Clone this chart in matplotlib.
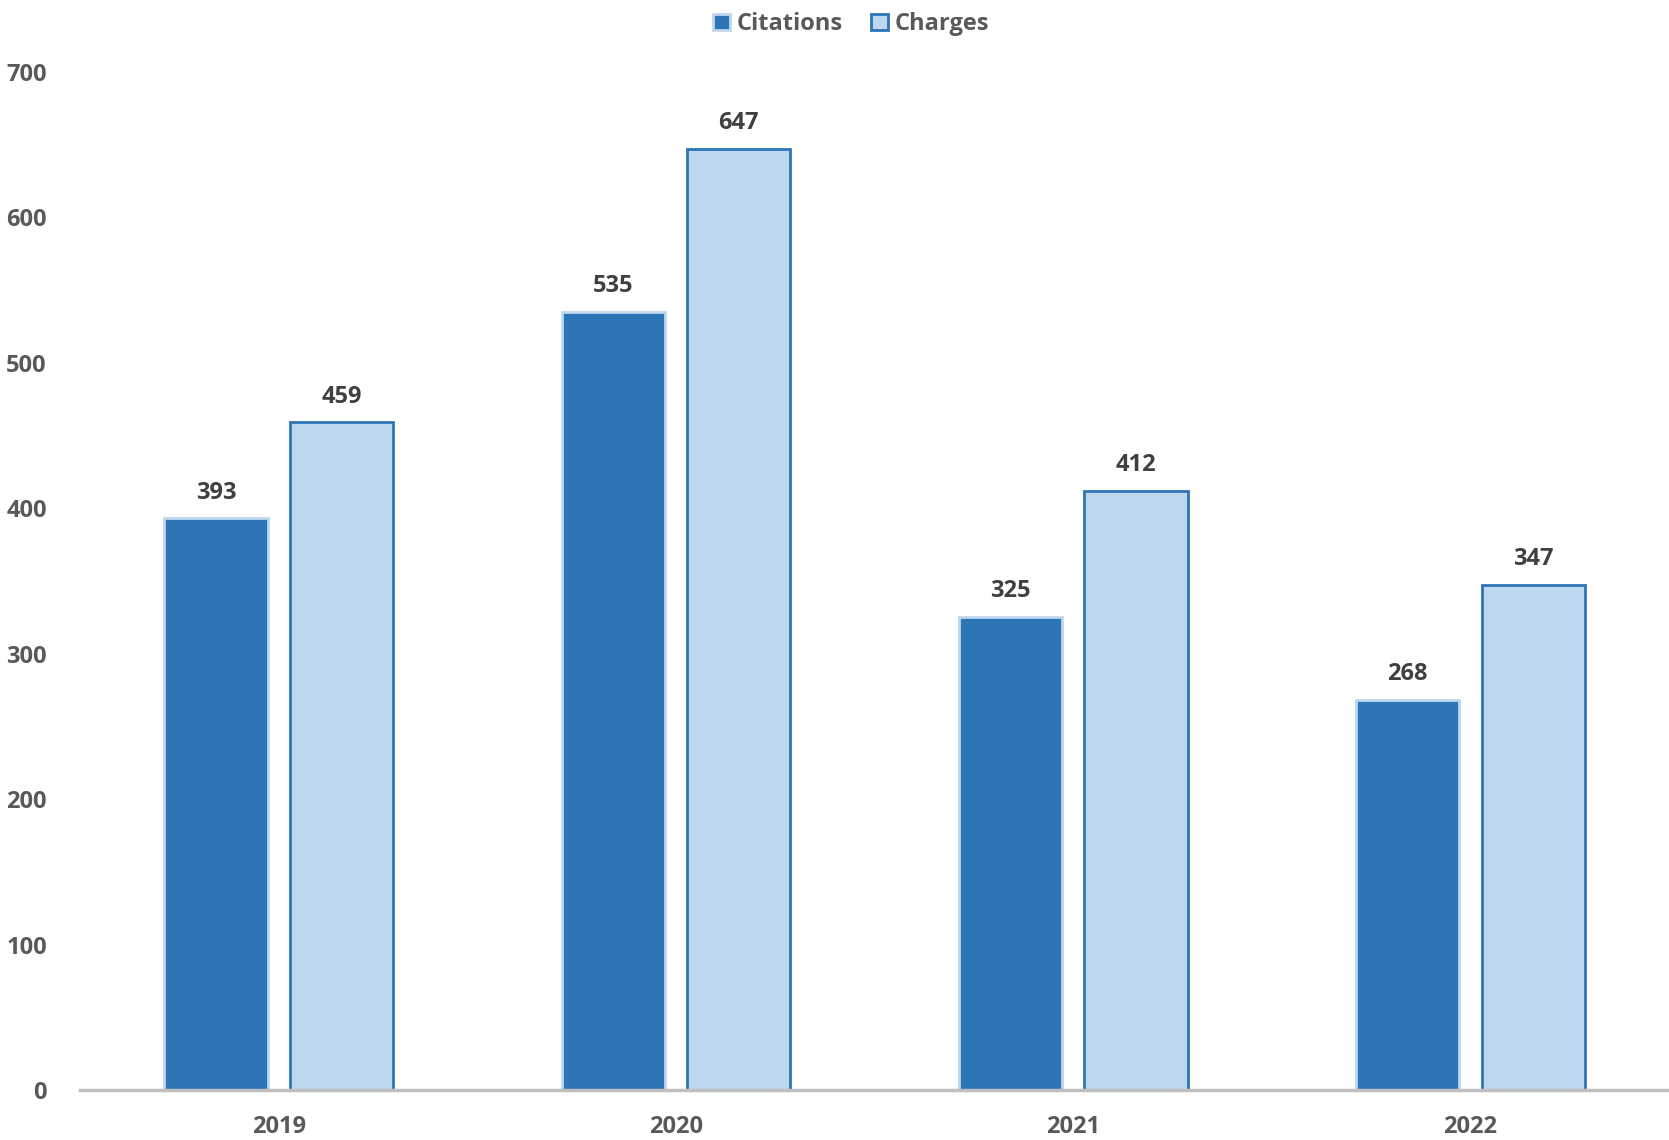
import matplotlib.pyplot as plt
import numpy as np

years = ['2019', '2020', '2021', '2022']
citations = [393, 535, 325, 268]
charges = [459, 647, 412, 347]

plt.rcParams['font.family'] = ['Open Sans', 'DejaVu Sans']
plt.rcParams['font.weight'] = 'bold'

fig = plt.figure(figsize=(16.69, 11.4), dpi=100)
ax = fig.add_axes([0.048, 0.0439, 0.952, 0.8929])

x = np.arange(len(years))
w = 0.26
off = 0.158
b1 = ax.bar(x - off, citations, w, color='#2E75B6', edgecolor='#BDD7EE', linewidth=2, label='Citations')
b2 = ax.bar(x + off, charges, w, color='#BDD7EE', edgecolor='#2E75B6', linewidth=2, label='Charges')

for bars in (b1, b2):
    ax.bar_label(bars, padding=10, fontsize=17, fontweight='bold', color='#404040')

ax.set_xlim(-0.5, 3.5)
ax.set_ylim(0, 700)
ax.set_yticks(range(0, 701, 100))
ax.set_xticks(x)
ax.set_xticklabels(years)
ax.tick_params(axis='both', length=0, labelsize=17, labelcolor='#595959')
ax.tick_params(axis='y', pad=24)
ax.tick_params(axis='x', pad=18)
for lbl in ax.get_xticklabels() + ax.get_yticklabels():
    lbl.set_fontweight('bold')

for s in ['top', 'right', 'left']:
    ax.spines[s].set_visible(False)
ax.spines['bottom'].set_color('#BFBFBF')
ax.spines['bottom'].set_linewidth(2.5)

fig.legend(loc='upper center', bbox_to_anchor=(0.51, 1.008), ncol=2, frameon=False,
           fontsize=17, handlelength=0.7, handleheight=0.7, handletextpad=0.3,
           columnspacing=1.2, labelcolor='#595959')

fig.savefig('out.png', dpi=100)
